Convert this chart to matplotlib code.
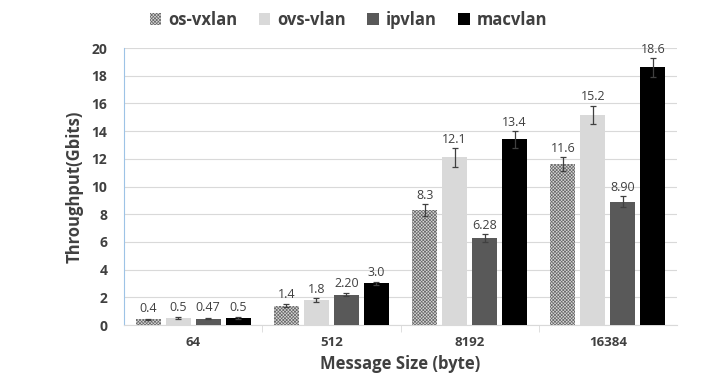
import matplotlib
matplotlib.use("Agg")
import matplotlib.pyplot as plt
import numpy as np

categories = ["64", "512", "8192", "16384"]
series = ["os-vxlan", "ovs-vlan", "ipvlan", "macvlan"]
values = {
    "os-vxlan": [0.4, 1.4, 8.3, 11.6],
    "ovs-vlan": [0.5, 1.8, 12.1, 15.2],
    "ipvlan": [0.47, 2.20, 6.28, 8.90],
    "macvlan": [0.5, 3.0, 13.4, 18.6],
}
labels = {
    "os-vxlan": ["0.4", "1.4", "8.3", "11.6"],
    "ovs-vlan": ["0.5", "1.8", "12.1", "15.2"],
    "ipvlan": ["0.47", "2.20", "6.28", "8.90"],
    "macvlan": ["0.5", "3.0", "13.4", "18.6"],
}
errors = {
    "os-vxlan": [0.05, 0.1, 0.45, 0.5],
    "ovs-vlan": [0.05, 0.12, 0.7, 0.65],
    "ipvlan": [0.05, 0.12, 0.3, 0.4],
    "macvlan": [0.05, 0.12, 0.6, 0.7],
}
yticks = [0, 2, 4, 6, 8, 10, 12, 14, 16, 18, 20]

colors = {"os-vxlan": "#d0d0d0", "ovs-vlan": "#d9d9d9", "ipvlan": "#595959", "macvlan": "#000000"}

plt.rcParams['font.family'] = ['Open Sans', 'DejaVu Sans']
plt.rcParams['hatch.linewidth'] = 0.5

fig = plt.figure(figsize=(7.21, 3.89), dpi=100)
ax = fig.add_axes([0.172, 0.1645, 0.767, 0.712])

x = np.arange(len(categories))
pitch = 0.217
width = 0.18
handles = []
for i, s in enumerate(series):
    pos = x + (i - 1.5) * pitch
    kw = dict(color=colors[s], edgecolor=colors[s], linewidth=0)
    if s == "os-vxlan":
        kw = dict(facecolor="#d8d8d8", edgecolor="#6a6a6a", hatch="xxxxxxxxxx", linewidth=0)
    b = ax.bar(pos, values[s], width, zorder=3, label=s, **kw)
    ax.errorbar(pos, values[s], yerr=errors[s], fmt="none", ecolor="#404040",
                elinewidth=0.9, capsize=2.5, capthick=0.9, zorder=4)
    for p, v, e, t in zip(pos, values[s], errors[s], labels[s]):
        ax.text(p, v + max(e, 0.15) + 0.15, t, ha="center", va="bottom",
                fontsize=9, color="#404040", zorder=5)
    handles.append(b)

ax.set_xlim(-0.5, 3.5)
ax.set_ylim(0, 20)
ax.set_yticks(yticks)
ax.set_yticklabels([str(t) for t in yticks], fontsize=10, fontweight="bold", color="#404040")
ax.set_xticks(x)
ax.set_xticklabels(categories, fontsize=9.5, fontweight="bold", color="#404040")
ax.tick_params(axis="x", length=0, pad=8)
ax.tick_params(axis="y", length=0, pad=12)
ax.set_xticks([0.5, 1.5, 2.5], minor=True)
ax.tick_params(axis="x", which="minor", length=5, color="#d9d9d9", direction="out")
ax.grid(axis="y", color="#d9d9d9", linewidth=0.8, zorder=0)
for sp in ["top", "right"]:
    ax.spines[sp].set_visible(False)
ax.spines["left"].set_color("#9dc3e6")
ax.spines["left"].set_linewidth(0.8)
ax.spines["bottom"].set_color("#d9d9d9")
ax.spines["bottom"].set_linewidth(0.8)

ax.set_xlabel("Message Size (byte)", fontsize=12, fontweight="bold", color="#404040", labelpad=4)
ax.set_ylabel("Throughput(Gbits)", fontsize=12, fontweight="bold", color="#404040", labelpad=6)

fig.legend(handles, series, loc="upper center", bbox_to_anchor=(0.483, 1.01), ncol=4,
           frameon=False, prop={"weight": "bold", "size": 12},
           handlelength=0.7, handleheight=0.7, handletextpad=0.4, columnspacing=1.3,
           labelcolor="#404040")

fig.savefig("out.png", dpi=100)
